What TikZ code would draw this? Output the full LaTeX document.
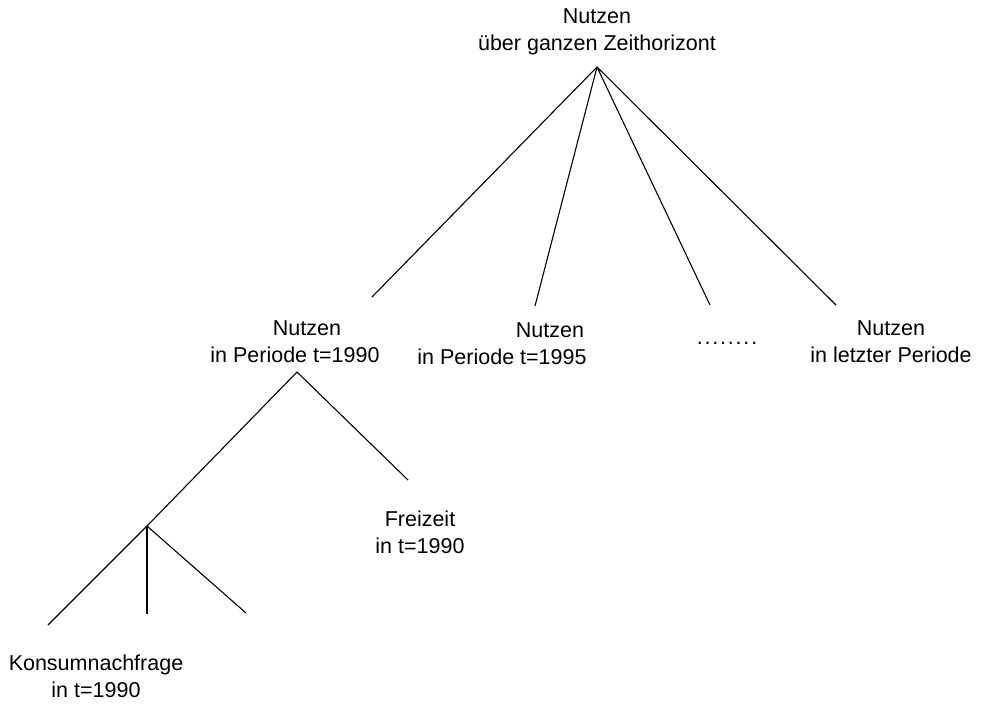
\documentclass[tikz,border=0pt]{standalone}
\usepackage{fontspec}
\setmainfont{Liberation Sans}
\begin{document}
\begin{tikzpicture}[x=1pt,y=-1pt,
  lbl/.style={align=center,font=\fontsize{21.5}{27}\selectfont,inner sep=0pt},
  edge/.style={line width=1.1pt,black}]
\useasboundingbox (0,0) rectangle (1000,704);
\node[lbl] (T) at (597,32) {Nutzen\\über ganzen Zeithorizont};
\node[lbl] (A) at (295,342) {\hspace*{24pt}Nutzen\\in Periode t=1990};
\node[lbl] (B) at (502,344) {\hspace*{96pt}Nutzen\\in Periode t=1995};
\node[lbl] (D) at (727,343) {.\kern1.8pt.\kern1.8pt.\kern1.8pt.\kern1.8pt.\kern1.8pt.\kern1.8pt.\kern1.8pt.};
\node[lbl] (L) at (891,342) {Nutzen\\in letzter Periode};
\node[lbl] (F) at (420,532) {Freizeit\\in t=1990};
\node[lbl] (K) at (96,676) {Konsumnachfrage\\in t=1990};
\coordinate (top) at (597,67);
\coordinate (eA) at (372,297);
\coordinate (eB) at (535,306);
\coordinate (eD) at (710,305);
\coordinate (eL) at (836,305);
\coordinate (apx) at (297,372);
\coordinate (eF) at (408,480);
\coordinate (br) at (147,526);
\coordinate (k1) at (48,625);
\coordinate (k2) at (147,614);
\coordinate (k3) at (246,613);
\draw[edge] (top) -- (eA);
\draw[edge] (top) -- (eB);
\draw[edge] (top) -- (eD);
\draw[edge] (top) -- (eL);
\draw[edge] (apx) -- (eF);
\draw[edge] (apx) -- (br);
\draw[edge] (br) -- (k1);
\draw[edge] (br) -- (k2);
\draw[edge] (br) -- (k3);
\end{tikzpicture}
\end{document}
